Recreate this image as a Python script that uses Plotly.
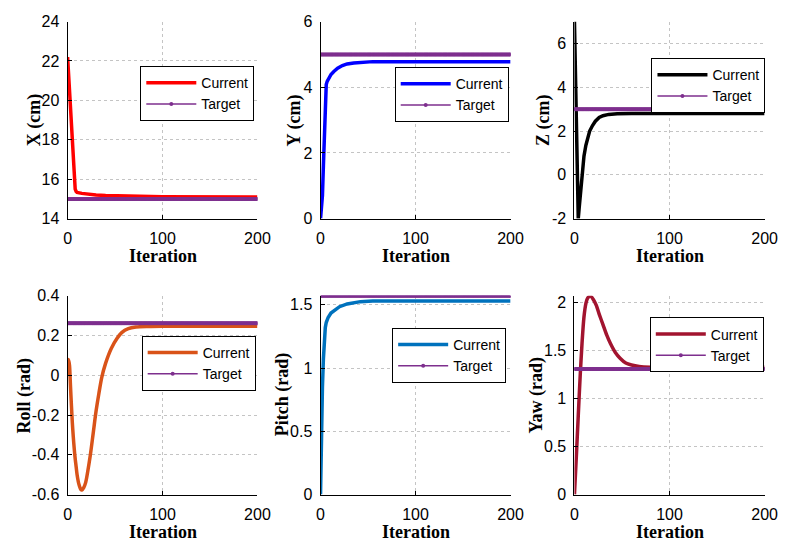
import plotly.graph_objects as go

# Iteration axis shared by all panels
iterations = list(range(201))

# Position X (cm)
x_iter = [0, 1, 2, 3, 4, 5, 6, 7, 8, 9, 10, 15, 22, 30, 40, 60, 100, 200]
x_current = [22.2, 21.3, 20.4, 19.5, 18.6, 17.7, 16.8, 16.0, 15.5, 15.38, 15.33,
             15.28, 15.23, 15.2, 15.17, 15.14, 15.11, 15.1]
x_target = 15.0

# Position Y (cm)
y_iter = [0, 1, 2, 3, 4, 5, 6, 7, 9, 11, 14, 18, 23, 28, 35, 42, 55, 200]
y_current = [0.0, 0.3, 0.7, 1.6, 2.6, 3.5, 4.08, 4.18, 4.3, 4.39, 4.48, 4.58,
             4.66, 4.71, 4.74, 4.76, 4.78, 4.78]
y_target = 5.0

# Position Z (cm)
z_iter = [0, 1, 2, 3, 4, 5, 6, 7, 8, 9, 10, 12, 14, 16, 19, 22, 26, 30, 36, 45, 60, 200]
z_current = [7.0, 4.8, 2.5, 0.2, -2.0, -1.5, -1.0, -0.5, 0.0, 0.45, 0.85, 1.35,
             1.7, 2.0, 2.25, 2.45, 2.62, 2.7, 2.76, 2.79, 2.8, 2.8]
z_target = 3.0

# Roll (rad)
roll_iter = [0, 1, 2, 3, 4, 5, 6, 7, 8, 9, 10, 12, 14, 15, 17, 19, 21, 24, 27, 30,
             33, 36, 40, 46, 52, 57, 64, 72, 85, 100, 200]
roll_current = [0.0, 0.08, 0.05, -0.05, -0.15, -0.24, -0.31, -0.37, -0.42, -0.46,
                -0.5, -0.55, -0.575, -0.577, -0.565, -0.54, -0.49, -0.40, -0.29,
                -0.18, -0.09, -0.01, 0.06, 0.135, 0.185, 0.215, 0.235, 0.243,
                0.246, 0.247, 0.247]
roll_target = 0.2618

# Pitch (rad)
pitch_iter = [0, 1, 2, 3, 4, 5, 6, 8, 11, 15, 20, 28, 35, 42, 55, 200]
pitch_current = [0.0, 0.55, 0.85, 1.07, 1.24, 1.32, 1.36, 1.4, 1.435, 1.46, 1.485,
                 1.507, 1.518, 1.525, 1.53, 1.53]
pitch_target = 1.5708

# Yaw (rad)
yaw_iter = [0, 2, 4, 6, 8, 10, 12, 14, 17, 20, 23, 26, 30, 34, 38, 43, 48, 54, 60,
            68, 80, 100, 200]
yaw_current = [0.0, 0.4, 0.82, 1.23, 1.58, 1.85, 1.99, 2.05, 2.065, 2.03, 1.97,
               1.88, 1.77, 1.66, 1.57, 1.48, 1.42, 1.37, 1.35, 1.335, 1.327,
               1.325, 1.325]
yaw_target = 1.309

# Tick values and labels
iter_ticks = [0, 100, 200]
x_ticks = [14, 16, 18, 20, 22, 24]
y_ticks = [0, 2, 4, 6]
z_ticks = [-2, 0, 2, 4, 6]
z_ticklabels = ["-2", "0", "2", "4", "6"]
roll_ticks = [-0.6, -0.4, -0.2, 0, 0.2, 0.4]
roll_ticklabels = ["-0.6", "-0.4", "-0.2", "0", "0.2", "0.4"]
pitch_ticks = [0, 0.5, 1, 1.5]
yaw_ticks = [0, 0.5, 1, 1.5, 2]

W, H = 790, 552
TARGET_COLOR = "#7E2F8E"
TICK_FONT = dict(family="Liberation Sans, Arial, sans-serif", size=16, color="black")
TITLE_FONT = dict(family="Liberation Serif, Times New Roman, serif", size=18, color="black")

# Panel plot areas in pixels: (left, right, top, bottom)
cols = [(65, 259), (323.5, 517.7), (583, 777.3)]
rows = [(14, 217.3), (297, 502)]

panels = [
    dict(it=x_iter, cur=x_current, tgt=x_target, color="#FF0000", title="X (cm)",
         rng=[14, 24], tv=x_ticks, tt=None, spline=False, legend=(139.3, 60), ytitle_x=30.7),
    dict(it=y_iter, cur=y_current, tgt=y_target, color="#0000FF", title="Y (cm)",
         rng=[0, 6], tv=y_ticks, tt=None, spline=False, legend=(399.3, 61), ytitle_x=296.7),
    dict(it=z_iter, cur=z_current, tgt=z_target, color="#000000", title="Z (cm)",
         rng=[-2, 7], tv=z_ticks, tt=z_ticklabels, spline=False, legend=(661.7, 51.7), ytitle_x=550.8),
    dict(it=roll_iter, cur=roll_current, tgt=roll_target, color="#D95319", title="Roll (rad)",
         rng=[-0.6, 0.4], tv=roll_ticks, tt=roll_ticklabels, spline=True, legend=(140.7, 338.3), ytitle_x=20.8),
    dict(it=pitch_iter, cur=pitch_current, tgt=pitch_target, color="#0072BD", title="Pitch (rad)",
         rng=[0, 1.5708], tv=pitch_ticks, tt=None, spline=False, legend=(396.7, 330), ytitle_x=284.2),
    dict(it=yaw_iter, cur=yaw_current, tgt=yaw_target, color="#A2142F", title="Yaw (rad)",
         rng=[0, 2.07], tv=yaw_ticks, tt=None, spline=True, legend=(660, 319.3), ytitle_x=544),
]

fig = go.Figure()
layout = dict(
    width=W, height=H, margin=dict(l=0, r=0, t=0, b=0),
    paper_bgcolor="white", plot_bgcolor="white", showlegend=True,
)
annotations = []

for i, p in enumerate(panels):
    n = i + 1
    sfx = "" if n == 1 else str(n)
    r, c = divmod(i, 3)
    (xl, xr), (yt, yb) = cols[c], rows[r]
    leg = "legend" + sfx

    line = dict(color=p["color"], width=3.5)
    if p["spline"]:
        line.update(shape="spline", smoothing=0.8)
    fig.add_trace(go.Scatter(
        x=p["it"], y=p["cur"], mode="lines", name="Current", line=line,
        xaxis="x" + sfx, yaxis="y" + sfx, legend=leg,
    ))
    fig.add_trace(go.Scatter(
        x=iterations, y=[p["tgt"]] * len(iterations), mode="lines+markers", name="Target",
        line=dict(color=TARGET_COLOR, width=1.5),
        marker=dict(color=TARGET_COLOR, size=4, symbol="circle"),
        xaxis="x" + sfx, yaxis="y" + sfx, legend=leg,
    ))

    grid = dict(showgrid=True, gridcolor="#c4c4c4", griddash="dot", gridwidth=1,
                zeroline=False, showline=True, linecolor="black", linewidth=1,
                ticks="inside", ticklen=4, tickcolor="black", tickfont=TICK_FONT)
    layout["xaxis" + sfx] = dict(
        domain=[xl / W, xr / W], range=[0, 200], tickvals=iter_ticks,
        anchor="y" + sfx, ticklabelstandoff=5, **grid,
    )
    yax = dict(domain=[1 - yb / H, 1 - yt / H], range=p["rng"], tickvals=p["tv"],
               anchor="x" + sfx, ticklabelstandoff=4, **grid)
    if p["tt"] is not None:
        yax["ticktext"] = p["tt"]
    layout["yaxis" + sfx] = yax

    lx, ly = p["legend"]
    layout[leg] = dict(
        x=lx / W, y=1 - ly / H, xanchor="left", yanchor="top",
        bgcolor="white", bordercolor="black", borderwidth=1,
        font=dict(family="Liberation Sans, Arial, sans-serif", size=14, color="black"),
        itemwidth=50, tracegroupgap=0,
    )

    # Axis titles
    annotations.append(dict(
        text="<b>Iteration</b>", x=(xl + xr) / 2 / W, y=1 - (yb + 39) / H,
        xref="paper", yref="paper", showarrow=False, font=TITLE_FONT,
        xanchor="center", yanchor="middle",
    ))
    annotations.append(dict(
        text="<b>" + p["title"] + "</b>", x=p["ytitle_x"] / W, y=1 - (yt + yb) / 2 / H,
        xref="paper", yref="paper", showarrow=False, font=TITLE_FONT, textangle=-90,
        xanchor="center", yanchor="middle",
    ))

layout["annotations"] = annotations
fig.update_layout(**layout)
fig.write_html("out.html")
